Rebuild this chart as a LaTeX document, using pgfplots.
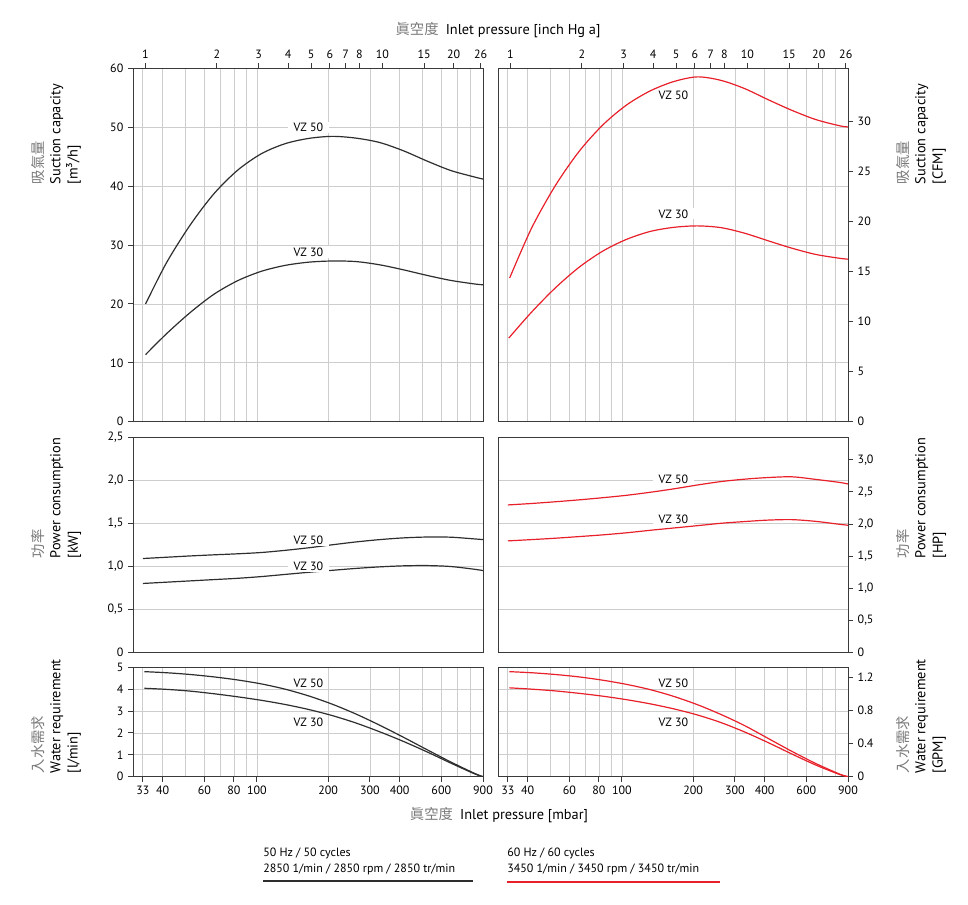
\documentclass[border=0pt]{standalone}
\usepackage{fontspec}
\setmainfont{PT Sans}
\newfontfamily\cjk{Noto Sans CJK TC}
\usepackage{pgfplots}
\pgfplotsset{compat=1.18}

\definecolor{axisc}{HTML}{3A3A3A}
\definecolor{gridc}{HTML}{CDCDCD}
\definecolor{curveK}{HTML}{2E2E2E}
\definecolor{curveR}{HTML}{E8202A}
\definecolor{cjkc}{HTML}{7A7A7A}

\newcommand{\tickfont}{\fontsize{9}{10}\selectfont}
\newcommand{\labfont}{\fontsize{10.75}{12}\selectfont}
\newcommand{\vzfont}{\fontsize{9}{10}\selectfont}
\newcommand{\legfont}{\fontsize{9}{12}\selectfont}

\pgfplotsset{
  mypanel/.style={
    scale only axis, width=262.5pt, anchor=south west,
    xmin=30, xmax=900,
    axis line style={draw=axisc, line width=0.75pt},
    minor xtick={33,40,50,60,70,80,90,100,200,300,400,500,600,700,800},
    xminorgrids=true, ymajorgrids=true,
    minor grid style={draw=gridc, line width=0.6pt},
    major grid style={draw=gridc, line width=0.6pt},
    minor tick length=0pt,
    tick align=outside, major tick length=3.75pt,
    tick style={draw=axisc, line width=0.75pt},
    tick label style={font=\tickfont},
  },
  myright/.style={
    scale only axis, width=262.5pt, anchor=south west,
    xmin=0, xmax=1,
    axis x line=none, axis y line*=right,
    axis line style={draw=axisc, line width=0.75pt},
    tick align=outside, major tick length=3.75pt,
    tick style={draw=axisc, line width=0.75pt},
    tick label style={font=\tickfont},
    ymin=0,
  },
  myinhg/.style={
    xtick={33.86,67.73,101.59,135.46,169.32,203.18,237.05,270.91,338.64,507.96,677.28,880.46},
    xticklabels={1,2,3,4,5,6,7,8,10,15,20,26},
    xtick pos=right, xticklabel pos=right,
  },
  mymbar/.style={
    xtick={33,40,60,80,100,200,300,400,600,900},
    xticklabels={33,40,60,80,100,200,300,400,600,900},
    xtick pos=left, xticklabel pos=left,
  },
  mynox/.style={xtick=\empty},
}
\tikzset{vzlab/.style={fill=white, inner xsep=4pt, inner ysep=1pt, font=\vzfont, text=black}}

\begin{document}
\begin{tikzpicture}
\useasboundingbox (0pt,0pt) rectangle (726pt,678pt);

% ---------- row 1: suction capacity [m3/h] ----------
\begin{semilogxaxis}[mypanel, myinhg, at={(99.75pt,361.7pt)}, height=265.05pt,
  ymin=0, ymax=60, ytick={0,10,20,30,40,50,60},
  yticklabels={0,10,20,30,40,50,60}, ytick pos=left]
\addplot[curveK, line width=0.9pt, smooth] coordinates {(33.9,20.0) (41.55,27.0) (52.3,33.4) (65.84,38.7)
  (82.89,42.7) (104.4,45.5) (131.4,47.2) (165.4,48.1) (208.3,48.45) (262.2,48.15) (330,47.4)
  (415.5,46.0) (523,44.25) (658.4,42.65) (828.9,41.55) (900,41.2)};
\addplot[curveK, line width=0.9pt, smooth] coordinates {(33.9,11.4) (41.55,14.94) (52.3,18.54) (65.84,21.64)
  (82.89,23.94) (104.4,25.54) (131.4,26.54) (165.4,27.09) (208.3,27.29) (262.2,27.19) (330,26.64)
  (415.5,25.79) (523,24.84) (658.4,23.99) (828.9,23.39) (900,23.25)};
\node[vzlab] at (axis cs:165,50) {VZ 50};
\node[vzlab] at (axis cs:165,28.8) {VZ 30};
\end{semilogxaxis}

\begin{semilogxaxis}[mypanel, myinhg, at={(373.5pt,361.7pt)}, height=265.05pt,
  ymin=0, ymax=60, ytick={0,10,20,30,40,50,60}, yticklabels={}, y tick style={draw=none}]
\addplot[curveR, line width=0.9pt, smooth] coordinates {(33.6,24.4) (41.55,32.85) (52.3,40.05) (65.84,45.85)
  (82.89,50.35) (104.4,53.75) (131.4,56.15) (165.4,57.75) (208.3,58.55) (262.2,57.95) (330,56.55)
  (415.5,54.65) (523,52.85) (658.4,51.3) (828.9,50.25) (900,50.05)};
\addplot[curveR, line width=0.9pt, smooth] coordinates {(33.3,14.2) (41.55,18.6) (52.3,22.7) (65.84,26.2)
  (82.89,28.95) (104.4,30.95) (131.4,32.3) (165.4,33.0) (208.3,33.25) (262.2,32.95) (330,32.0)
  (415.5,30.7) (523,29.45) (658.4,28.4) (828.9,27.75) (900,27.6)};
\node[vzlab, fill=none] at (axis cs:165,55.4) {VZ 50};
\node[vzlab] at (axis cs:165,35.3) {VZ 30};
\end{semilogxaxis}
\begin{axis}[myright, at={(373.5pt,361.7pt)}, height=265.05pt,
  ymax=35.31, ytick={0,5,10,15,20,25,30}, yticklabels={0,5,10,15,20,25,30}]
\end{axis}

% ---------- row 2: power consumption [kW] ----------
\begin{semilogxaxis}[mypanel, mynox, at={(99.75pt,188.8pt)}, height=161.25pt,
  ymin=0, ymax=2.5, ytick={0,0.5,1,1.5,2,2.5},
  yticklabels={0,{0,5},{1,0},{1,5},{2,0},{2,5}}, ytick pos=left]
\addplot[curveK, line width=0.9pt, smooth] coordinates {(33,1.09) (41.55,1.105) (52.3,1.12) (65.84,1.133)
  (82.89,1.145) (104.4,1.16) (131.4,1.185) (165.4,1.215) (208.3,1.25) (262.2,1.283) (330,1.31)
  (415.5,1.33) (523,1.34) (658.4,1.338) (828.9,1.318) (900,1.31)};
\addplot[curveK, line width=0.9pt, smooth] coordinates {(33,0.80) (41.55,0.815) (52.3,0.83) (65.84,0.845)
  (82.89,0.86) (104.4,0.88) (131.4,0.905) (165.4,0.93) (208.3,0.953) (262.2,0.975) (330,0.993)
  (415.5,1.005) (523,1.008) (658.4,0.997) (828.9,0.965) (900,0.95)};
\node[vzlab] at (axis cs:165,1.306) {VZ 50};
\node[vzlab] at (axis cs:165,1.0) {VZ 30};
\end{semilogxaxis}

\begin{semilogxaxis}[mypanel, mynox, at={(373.5pt,188.8pt)}, height=161.25pt,
  ymin=0, ymax=2.5, ytick={0,0.5,1,1.5,2,2.5}, yticklabels={}, y tick style={draw=none}]
\addplot[curveR, line width=0.9pt, smooth] coordinates {(33,1.713) (41.55,1.73) (52.3,1.75) (65.84,1.772)
  (82.89,1.797) (104.4,1.825) (131.4,1.86) (165.4,1.9) (208.3,1.945) (262.2,1.985) (330,2.013)
  (415.5,2.032) (523,2.04) (658.4,2.01) (828.9,1.975) (900,1.957)};
\addplot[curveR, line width=0.9pt, smooth] coordinates {(33,1.295) (41.55,1.31) (52.3,1.326) (65.84,1.345)
  (82.89,1.365) (104.4,1.389) (131.4,1.418) (165.4,1.445) (208.3,1.472) (262.2,1.5) (330,1.52)
  (415.5,1.537) (523,1.542) (658.4,1.522) (828.9,1.488) (900,1.477)};
\node[vzlab] at (axis cs:165,2.015) {VZ 50};
\node[vzlab] at (axis cs:165,1.55) {VZ 30};
\end{semilogxaxis}
\begin{axis}[myright, at={(373.5pt,188.8pt)}, height=161.25pt,
  ymax=3.3525, ytick={0,0.5,1,1.5,2,2.5,3},
  yticklabels={0,{0,5},{1,0},{1,5},{2,0},{2,5},{3,0}}]
\end{axis}

% ---------- row 3: water requirement [l/min] ----------
\begin{semilogxaxis}[mypanel, mymbar, at={(99.75pt,95.5pt)}, height=82.05pt,
  ymin=0, ymax=5, ytick={0,1,2,3,4,5}, yticklabels={0,1,2,3,4,5}, ytick pos=left]
\addplot[curveK, line width=0.9pt, smooth] coordinates {(33.5,4.80) (41.55,4.75) (52.3,4.67) (65.84,4.56)
  (82.89,4.42) (104.4,4.24) (131.4,4.00) (165.4,3.69) (208.3,3.31) (262.2,2.86) (330,2.35)
  (415.5,1.80) (523,1.23) (658.4,0.67) (828.9,0.15) (900,0)};
\addplot[curveK, line width=0.9pt, smooth] coordinates {(33.5,4.04) (41.55,3.99) (52.3,3.91) (65.84,3.79)
  (82.89,3.65) (104.4,3.49) (131.4,3.30) (165.4,3.07) (208.3,2.79) (262.2,2.45) (330,2.05)
  (415.5,1.61) (523,1.13) (658.4,0.62) (828.9,0.13) (900,0)};
\node[vzlab, fill=none] at (axis cs:165,4.28) {VZ 50};
\node[vzlab, fill=none] at (axis cs:165,2.5) {VZ 30};
\end{semilogxaxis}

\begin{semilogxaxis}[mypanel, mymbar, at={(373.5pt,95.5pt)}, height=82.05pt,
  ymin=0, ymax=5, ytick={0,1,2,3,4,5}, yticklabels={}, y tick style={draw=none}]
\addplot[curveR, line width=0.9pt, smooth] coordinates {(33.5,4.80) (41.55,4.75) (52.3,4.67) (65.84,4.56)
  (82.89,4.41) (104.4,4.22) (131.4,3.98) (165.4,3.67) (208.3,3.29) (262.2,2.84) (330,2.33)
  (415.5,1.74) (523,1.15) (658.4,0.60) (828.9,0.12) (900,0)};
\addplot[curveR, line width=0.9pt, smooth] coordinates {(33.5,4.06) (41.55,4.00) (52.3,3.92) (65.84,3.81)
  (82.89,3.68) (104.4,3.52) (131.4,3.33) (165.4,3.10) (208.3,2.82) (262.2,2.47) (330,2.04)
  (415.5,1.55) (523,1.03) (658.4,0.53) (828.9,0.10) (900,0)};
\node[vzlab, fill=none] at (axis cs:165,4.28) {VZ 50};
\node[vzlab, fill=none] at (axis cs:165,2.5) {VZ 30};
\end{semilogxaxis}
\begin{axis}[myright, at={(373.5pt,95.5pt)}, height=82.05pt,
  ymax=1.321, ytick={0,0.4,0.8,1.2}, yticklabels={0,0.4,0.8,1.2}]
\end{axis}

% ---------- titles ----------
\node[font=\labfont] at (373.5pt,655.5pt) {{\cjk\color{cjkc}眞空度}\enspace Inlet pressure [inch Hg a]};
\node[font=\labfont] at (374.25pt,66.75pt) {{\cjk\color{cjkc}眞空度}\enspace Inlet pressure [mbar]};

% ---------- y labels ----------
\node[rotate=90, anchor=west, align=left, font=\labfont] at (42pt,536.25pt)
  {{\cjk\color{cjkc}吸氣量}\\[1pt] Suction capacity\\[1pt] {[m³/h]}};
\node[rotate=90, anchor=west, align=left, font=\labfont] at (42pt,255.75pt)
  {{\cjk\color{cjkc}功率}\\[1pt] Power consumption\\[1pt] {[kW]}};
\node[rotate=90, anchor=west, align=left, font=\labfont] at (42pt,94.5pt)
  {{\cjk\color{cjkc}入水需求}\\[1pt] Water requirement\\[1pt] {[l/min]}};
\node[rotate=90, anchor=west, align=left, font=\labfont] at (690.75pt,536.25pt)
  {{\cjk\color{cjkc}吸氣量}\\[1pt] Suction capacity\\[1pt] {[CFM]}};
\node[rotate=90, anchor=west, align=left, font=\labfont] at (690.75pt,255.75pt)
  {{\cjk\color{cjkc}功率}\\[1pt] Power consumption\\[1pt] {[HP]}};
\node[rotate=90, anchor=west, align=left, font=\labfont] at (690.75pt,94.5pt)
  {{\cjk\color{cjkc}入水需求}\\[1pt] Water requirement\\[1pt] {[GPM]}};

% ---------- legend ----------
\node[anchor=north west, align=left, font=\legfont, inner sep=0pt] at (197.25pt,42pt)
  {50 Hz / 50 cycles\\ 2850 1/min / 2850 rpm / 2850 tr/min};
\draw[curveK, line width=1.5pt] (197.25pt,17.25pt) -- (354.75pt,17.25pt);
\node[anchor=north west, align=left, font=\legfont, inner sep=0pt] at (380.25pt,42pt)
  {60 Hz / 60 cycles\\ 3450 1/min / 3450 rpm / 3450 tr/min};
\draw[curveR, line width=1.5pt] (380.25pt,16.5pt) -- (540pt,16.5pt);
\end{tikzpicture}
\end{document}
